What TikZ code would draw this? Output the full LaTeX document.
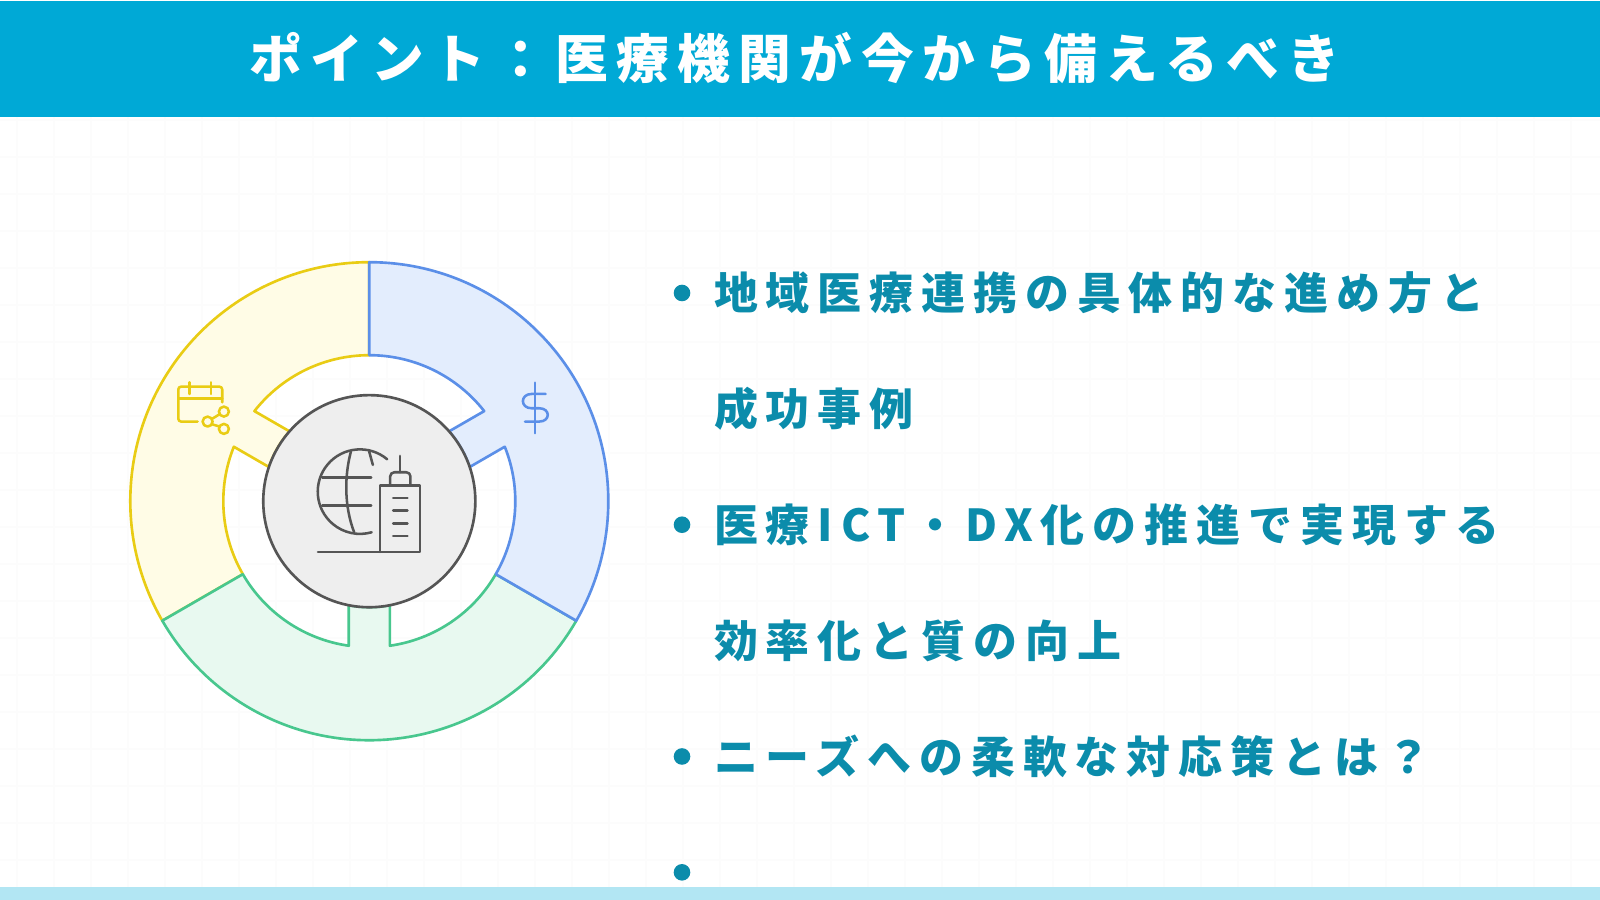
\documentclass[tikz,border=0pt]{standalone}
\usepackage{fontspec}
\usetikzlibrary{positioning}
\newfontfamily\jpfont[LetterSpace=16]{Noto Sans CJK JP}
\newfontfamily\jpbody[LetterSpace=18]{Noto Sans CJK JP}
\definecolor{headblue}{HTML}{00A9D6}
\definecolor{stripblue}{HTML}{B2E6F3}
\definecolor{bodyteal}{HTML}{0B8CAB}
\definecolor{fblue}{HTML}{E3EDFD}
\definecolor{dblue}{HTML}{5B8FE8}
\definecolor{fyellow}{HTML}{FFFCE6}
\definecolor{dyellow}{HTML}{E9CC14}
\definecolor{fgreen}{HTML}{E8F9F0}
\definecolor{dgreen}{HTML}{48C78E}
\definecolor{dgray}{HTML}{555555}
\tikzstyle{Rblue}=[draw=dblue,fill=fblue,line width=.75pt,line join=round]
\tikzstyle{Ryellow}=[draw=dyellow,fill=fyellow,line width=.75pt,line join=round]
\tikzstyle{Rgreen}=[draw=dgreen,fill=fgreen,line width=.75pt,line join=round]
\tikzstyle{Ahub}=[draw=dgray,fill=black!6.5,circle,line width=.75pt,minimum size=2.12cm,inner sep=0]
\tikzstyle{Iline}=[line width=.72pt,line cap=round,line join=round]
\tikzstyle{Atitle}=[inner sep=0,text=white,font=\jpfont\bfseries\fontsize{15}{18}\selectfont]
\tikzstyle{Aline}=[inner sep=0,text=bodyteal,text height=11pt,text depth=1.5pt,
                font=\jpbody\bfseries\fontsize{12.5}{15}\selectfont]
\tikzstyle{Abullet}=[circle,fill=bodyteal,minimum size=1.66mm,inner sep=0,outer sep=0]
\begin{document}
\begin{tikzpicture}[x=0.01cm,y=0.01cm,node distance=1.158cm]
\path[use as bounding box] (0,0) rectangle (1600,900);
\fill[white] (0,0) rectangle (1600,900);

% faint paper grid
\begin{scope}[shift={(17,3)}]
\draw[black!1,line width=.4pt,step=37] (-17,10) grid (1583,780);
\end{scope}

\fill[headblue] (0,783) rectangle (1600,899);
\fill[stripblue] (0,0) rectangle (1600,13);
\node[Atitle] (title) at (795,842) {ポイント：医療機関が今から備えるべき};

% ring
\begin{scope}[shift={(369.3,398.8)}]
\path[Ryellow] (90:239) arc[start angle=90,end angle=210,radius=239]
  -- (210:146) arc[start angle=210,end angle=158.1,radius=146]
  -- (161.2:106) arc[start angle=161.2,end angle=138.8,radius=106]
  -- (141.9:146) arc[start angle=141.9,end angle=90,radius=146] -- cycle;
\path[Rgreen] (-30:239) arc[start angle=-30,end angle=-150,radius=239]
  -- (-150:146) arc[start angle=-150,end angle=-98.1,radius=146]
  -- (-101.2:106) arc[start angle=-101.2,end angle=-78.8,radius=106]
  -- (-81.9:146) arc[start angle=-81.9,end angle=-30,radius=146] -- cycle;
\path[Rblue] (90:239) arc[start angle=90,end angle=-30,radius=239]
  -- (-30:146) arc[start angle=-30,end angle=21.9,radius=146]
  -- (18.8:106) arc[start angle=18.8,end angle=41.2,radius=106]
  -- (38.1:146) arc[start angle=38.1,end angle=90,radius=146] -- cycle;
\node[Ahub] (hub) at (0,0) {};
\end{scope}

% globe and tower
\begin{scope}[shift={(290,480)},x=0.00333cm,y=-0.00333cm]
\draw[Iline,draw=dgray] (292,118) arc[start angle=-50,end angle=-286,radius=127];
\draw[Iline,draw=dgray] (97,173) -- (244,173) (97,257) -- (244,257);
\draw[Iline,draw=dgray] (183,95) .. controls (163,170) and (163,260) .. (193,338);
\draw[Iline,draw=dgray] (238,95) -- (249,135);
\draw[Iline,draw=dgray] (84,396) -- (391,396) -- (391,197) -- (270,197) -- (270,396);
\draw[Iline,draw=dgray,rounded corners=1.2pt] (301,197) -- (301,157) -- (362,157) -- (362,197);
\draw[Iline,draw=dgray] (331,157) -- (331,108);
\foreach \wy in {234,272,311,349}
  \draw[Iline,draw=dgray] (310,\wy) -- (353,\wy);
\end{scope}

% calendar
\begin{scope}[shift={(160,530)},x=0.00333cm,y=-0.00333cm]
\draw[Iline,draw=dyellow,rounded corners=.8pt] (113,155) -- (55,155) -- (55,50) -- (187,50) -- (187,97);
\draw[Iline,draw=dyellow] (55,85) -- (187,85) (88,37) -- (88,72) (153,37) -- (153,72);
\draw[Iline,draw=dyellow] (143,155) circle[radius=15] (192,125) circle[radius=15] (192,177) circle[radius=15];
\draw[Iline,draw=dyellow] (156,147) -- (179,133) (156,163) -- (179,170);
\end{scope}

% dollar
\begin{scope}[shift={(500,530)},x=0.00333cm,y=-0.00333cm]
\draw[Iline,draw=dblue] (105,38) -- (105,190);
\draw[Iline,draw=dblue] (137,72) -- (95,72) .. controls (60,72) and (60,115) .. (95,115)
  -- (118,115) .. controls (152,115) and (152,155) .. (118,155) -- (75,155);
\end{scope}

% bullets and lines
\node[Abullet] (b1) at (682,607) {};
\node[Abullet,below of=b1,node distance=2.316cm] (b2) {};
\node[Abullet,below of=b2,node distance=2.316cm] (b3) {};
\node[Abullet,below of=b3] (b4) {};

\node[Aline,right=2.3mm of b1] (l1) {地域医療連携の具体的な進め方と};
\node[Aline,below=of l1.west,anchor=west] (l1b) {成功事例};
\node[Aline,right=2.3mm of b2] (l2) {医療ICT・DX化の推進で実現する};
\node[Aline,below=of l2.west,anchor=west] (l2b) {効率化と質の向上};
\node[Aline,right=2.3mm of b3] (l3) {ニーズへの柔軟な対応策とは？};

\end{tikzpicture}
\end{document}
